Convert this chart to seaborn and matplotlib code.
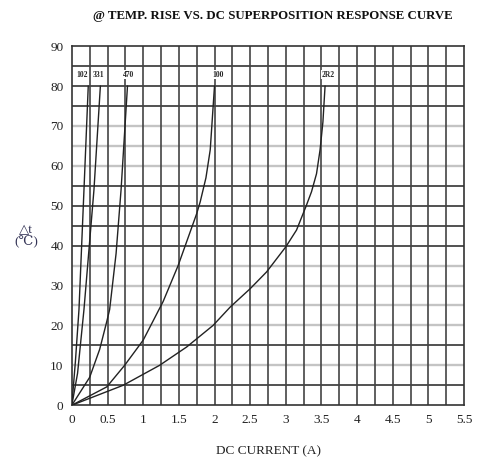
import numpy as np
import pandas as pd
import seaborn as sns
import matplotlib.pyplot as plt

# curve data (DC current A, temperature rise degC)
x_102 = [0, 0.05, 0.10, 0.17, 0.23]
y_102 = [0, 11, 24, 54, 80]
x_331 = [0, 0.08, 0.17, 0.31, 0.40]
y_331 = [0, 8, 24, 54, 80]
x_470 = [0, 0.25, 0.39, 0.49, 0.53, 0.62, 0.69, 0.78]
y_470 = [0, 7, 14, 21, 24, 38, 54, 80]
x_100 = [0, 0.49, 0.74, 1.0, 1.28, 1.49, 1.75, 1.80, 1.88, 1.94, 2.0]
y_100 = [0, 4.6, 10, 16.3, 26, 35, 48, 51, 57, 64, 80]
x_2r2 = [0, 0.72, 1.23, 1.61, 1.98, 2.22, 2.50, 2.73, 3.0, 3.15, 3.28, 3.36, 3.43, 3.48, 3.52, 3.55]
y_2r2 = [0, 5, 10, 14.6, 20, 24.6, 29.2, 33.4, 39.7, 43.9, 49.7, 53.5, 58, 64, 71, 80]

curve_names = ["102", "331", "470", "100", "2R2"]
label_x = [0.14, 0.37, 0.80, 2.05, 3.59]
label_y = 82.8

x_ticks = [0, 0.5, 1, 1.5, 2, 2.5, 3, 3.5, 4, 4.5, 5, 5.5]
x_tick_labels = ["0", "0.5", "1", "1.5", "2", "2.5", "3", "3.5", "4", "4.5", "5", "5.5"]
y_ticks = [0, 10, 20, 30, 40, 50, 60, 70, 80, 90]

dark_rows = [5, 15, 40, 45, 50, 55, 75, 80, 85]
light_rows = [10, 20, 25, 30, 35, 60, 65, 70]

serif = ["Liberation Serif", "DejaVu Serif", "DejaVu Sans"]

sns.set_style("white")
plt.rcParams['font.family'] = serif

fig = plt.figure(figsize=(4.79, 4.61), dpi=100)
ax = fig.add_axes([0.150, 0.121, 0.819, 0.779])

# grid
for v in light_rows:
    ax.axhline(v, color="#c4c4c4", lw=1.7, zorder=1)
for v in dark_rows:
    ax.axhline(v, color="#333333", lw=1.2, zorder=1)
for v in np.arange(0.25, 5.5, 0.25):
    ax.axvline(v, color="#444444", lw=1.2, zorder=1)

curves = [(x_102, y_102), (x_331, y_331), (x_470, y_470), (x_100, y_100), (x_2r2, y_2r2)]
for (xs, ys) in curves:
    df = pd.DataFrame({"I": xs, "T": ys})
    sns.lineplot(data=df, x="I", y="T", color="#222222", lw=1.0, ax=ax,
                 estimator=None, sort=False, zorder=3)

for name, lx in zip(curve_names, label_x):
    ax.text(lx, label_y, name, fontsize=5.5, fontweight="bold", ha="center", va="center",
            zorder=4, bbox=dict(facecolor="white", edgecolor="none", pad=0.3))

ax.set_xlim(0, 5.5)
ax.set_ylim(0, 90)
ax.set_xticks(x_ticks)
ax.set_xticklabels(x_tick_labels)
ax.set_yticks(y_ticks)
ax.tick_params(length=0, labelsize=9.5, colors="#222222", pad=6)
for s in ax.spines.values():
    s.set_color("#333333")
    s.set_linewidth(1.2)

ax.set_xlabel("DC CURRENT (A)", fontsize=9.5, labelpad=14, color="#222222")
ax.set_ylabel("")
fig.text(0.055, 0.487, "△t\n(℃)", fontsize=9.5, ha="center", va="center",
         color="#333355", linespacing=0.9)
fig.text(0.57, 0.966, "@ TEMP. RISE VS. DC SUPERPOSITION RESPONSE CURVE", fontsize=9.3,
         fontweight="bold", ha="center", va="center", color="#111111")

fig.savefig("out.png", dpi=100)
